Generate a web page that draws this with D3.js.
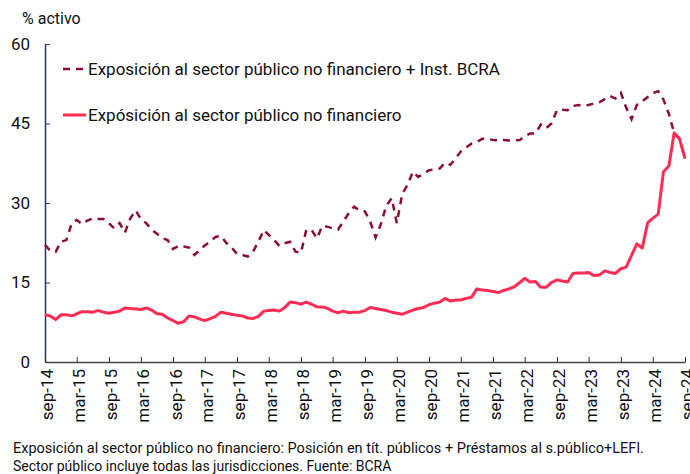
<!DOCTYPE html>
<html>
<head>
<meta charset="utf-8">
<script src="https://cdn.jsdelivr.net/npm/d3@7"></script>
<style>
  body { margin: 0; background: #fff; }
  svg { font-family: Roboto, "Liberation Sans", sans-serif; }
</style>
</head>
<body>
<svg width="690" height="474"></svg>
<script>
// monthly, sep-14 .. sep-24
const startMonth = new Date(2014, 8, 1);

const conInstBCRA = [
  22.1, 21.0, 20.8, 22.7, 23.0, 26.2, 26.8, 26.0, 26.7, 27.1,
  27.0, 27.0, 26.2, 25.2, 26.2, 24.4, 27.1, 28.6, 27.0, 26.2,
  25.0, 24.2, 23.4, 23.0, 21.3, 21.9, 21.8, 21.6, 20.2, 21.1,
  22.0, 22.7, 23.6, 23.8, 22.5, 21.6, 20.4, 20.2, 19.9, 20.8,
  22.7, 24.9, 24.0, 23.0, 21.9, 22.4, 22.7, 20.8, 20.6, 24.9,
  24.9, 23.3, 25.7, 25.5, 25.2, 25.0, 26.5, 28.1, 29.3, 28.6,
  28.4, 26.5, 23.5, 26.0, 29.5, 30.9, 26.2, 31.7, 33.4, 35.9,
  34.9, 35.5, 36.2, 36.3, 36.5, 37.6, 37.2, 38.5, 39.7, 40.5,
  41.2, 41.5, 42.1, 42.1, 41.9, 41.8, 41.9, 41.8, 41.8, 41.9,
  42.6, 43.1, 43.1, 44.8, 44.1, 45.0, 47.5, 47.6, 47.5, 48.3,
  48.5, 48.4, 48.5, 48.8, 49.0, 49.6, 50.2, 49.7, 50.8, 48.0,
  45.8, 48.5, 49.2, 50.0, 50.7, 51.1, 49.5, 46.8, 43.2, 42.1,
  38.4
];

const spnf = [
  8.9, 8.7, 8.0, 8.9, 8.9, 8.7, 9.1, 9.5, 9.5, 9.4,
  9.7, 9.4, 9.2, 9.4, 9.6, 10.2, 10.1, 10.0, 9.9, 10.2,
  9.8, 9.1, 9.0, 8.3, 7.8, 7.3, 7.6, 8.7, 8.5, 8.1,
  7.8, 8.2, 8.6, 9.4, 9.2, 9.0, 8.8, 8.7, 8.3, 8.2,
  8.6, 9.6, 9.7, 9.8, 9.6, 10.3, 11.3, 11.2, 10.9, 11.3,
  10.9, 10.4, 10.4, 10.1, 9.6, 9.3, 9.6, 9.3, 9.4, 9.4,
  9.7, 10.3, 10.1, 9.9, 9.7, 9.4, 9.2, 9.0, 9.4, 9.8,
  10.1, 10.3, 10.8, 11.1, 11.3, 12.0, 11.5, 11.7, 11.7, 12.0,
  12.2, 13.8, 13.6, 13.5, 13.3, 13.1, 13.5, 13.8, 14.2, 15.0,
  15.8, 15.1, 15.2, 14.1, 14.1, 15.0, 15.5, 15.3, 15.1, 16.7,
  16.8, 16.8, 16.9, 16.3, 16.4, 17.2, 16.9, 16.7, 17.6, 17.9,
  20.1, 22.3, 21.5, 26.3, 27.1, 27.9, 35.9, 37.0, 43.2, 42.1,
  38.4
];

const tickLabels = [
  "sep-14", "mar-15", "sep-15", "mar-16", "sep-16", "mar-17", "sep-17",
  "mar-18", "sep-18", "mar-19", "sep-19", "mar-20", "sep-20", "mar-21",
  "sep-21", "mar-22", "sep-22", "mar-23", "sep-23", "mar-24", "sep-24"
];
const yTicks = [0, 15, 30, 45, 60];

const seriesNames = [
  "Exposición al sector público no financiero + Inst. BCRA",
  "Expósición al sector público no financiero"
];
const footnote = [
  "Exposición al sector público no financiero: Posición en tít. públicos + Préstamos al s.público+LEFI.",
  "Sector público incluye todas las jurisdicciones. Fuente: BCRA"
];

const colDash = "#8a0f33";
const colSolid = "#ff2d55";

const svg = d3.select("svg");
const margin = {left: 45, top: 44, right: 5, bottom: 112};
const W = 690, H = 474;

const months = d3.timeMonth.range(startMonth, d3.timeMonth.offset(startMonth, spnf.length));
const tickDates = tickLabels.map((d, i) => d3.timeMonth.offset(startMonth, i * 6));

const x = d3.scaleTime()
  .domain([months[0], months[months.length - 1]])
  .range([margin.left, W - margin.right]);
const y = d3.scaleLinear()
  .domain([0, 60])
  .range([H - margin.bottom, margin.top]);

// y axis
const yAxis = svg.append("g")
  .attr("transform", `translate(${margin.left},0)`)
  .call(d3.axisLeft(y).tickValues(yTicks).tickSize(-5).tickSizeOuter(0).tickPadding(15));
yAxis.select(".domain").attr("stroke", "#1f3a68").attr("stroke-width", 1.5);
yAxis.selectAll(".tick line").attr("stroke", "#1f3a68");
yAxis.selectAll(".tick text")
  .attr("font-size", 17).attr("fill", "#111")
  .attr("font-family", "Roboto, sans-serif");

// x axis
const xAxis = svg.append("g")
  .attr("transform", `translate(0,${H - margin.bottom})`)
  .call(d3.axisBottom(x).tickValues(tickDates).tickSize(-5).tickSizeOuter(0)
    .tickFormat((d, i) => tickLabels[i]));
xAxis.select(".domain").attr("stroke", "#444").attr("stroke-width", 1.5);
xAxis.selectAll(".tick line").attr("stroke", "#333");
xAxis.selectAll(".tick text")
  .attr("font-size", 17).attr("fill", "#111")
  .attr("font-family", "Roboto, sans-serif")
  .attr("text-anchor", "end")
  .attr("transform", "translate(2,7) rotate(-90)")
  .attr("x", 0).attr("y", 0).attr("dy", "0.35em");

// y title
svg.append("text")
  .attr("x", 22).attr("y", 24)
  .attr("font-size", 16).attr("fill", "#111")
  .text("% activo");

const line = d3.line()
  .x((d, i) => x(months[i]))
  .y(d => y(d));

svg.append("path")
  .datum(conInstBCRA)
  .attr("fill", "none")
  .attr("stroke", colDash)
  .attr("stroke-width", 2.5)
  .attr("stroke-dasharray", "7,6")
  .attr("d", line);

svg.append("path")
  .datum(spnf)
  .attr("fill", "none")
  .attr("stroke", colSolid)
  .attr("stroke-width", 3)
  .attr("stroke-linejoin", "round")
  .attr("d", line);

// legend
const legend = svg.append("g");
const legItems = [
  {name: seriesNames[0], color: colDash, dash: "7,6", w: 2.5, y: 69},
  {name: seriesNames[1], color: colSolid, dash: null, w: 3, y: 115}
];
legItems.forEach(d => {
  legend.append("line")
    .attr("x1", 63).attr("x2", 86)
    .attr("y1", d.y).attr("y2", d.y)
    .attr("stroke", d.color)
    .attr("stroke-width", d.w)
    .attr("stroke-dasharray", d.dash);
  legend.append("text")
    .attr("x", 88).attr("y", d.y)
    .attr("dy", "0.35em")
    .attr("font-size", 17).attr("fill", "#111")
    .text(d.name);
});

// footnote
svg.selectAll(".foot")
  .data(footnote)
  .join("text")
  .attr("class", "foot")
  .attr("x", 13)
  .attr("y", (d, i) => 453 + i * 18)
  .attr("font-size", (d, i) => i === 0 ? 14.5 : 14).attr("fill", "#111")
  .text(d => d);
</script>
</body>
</html>
